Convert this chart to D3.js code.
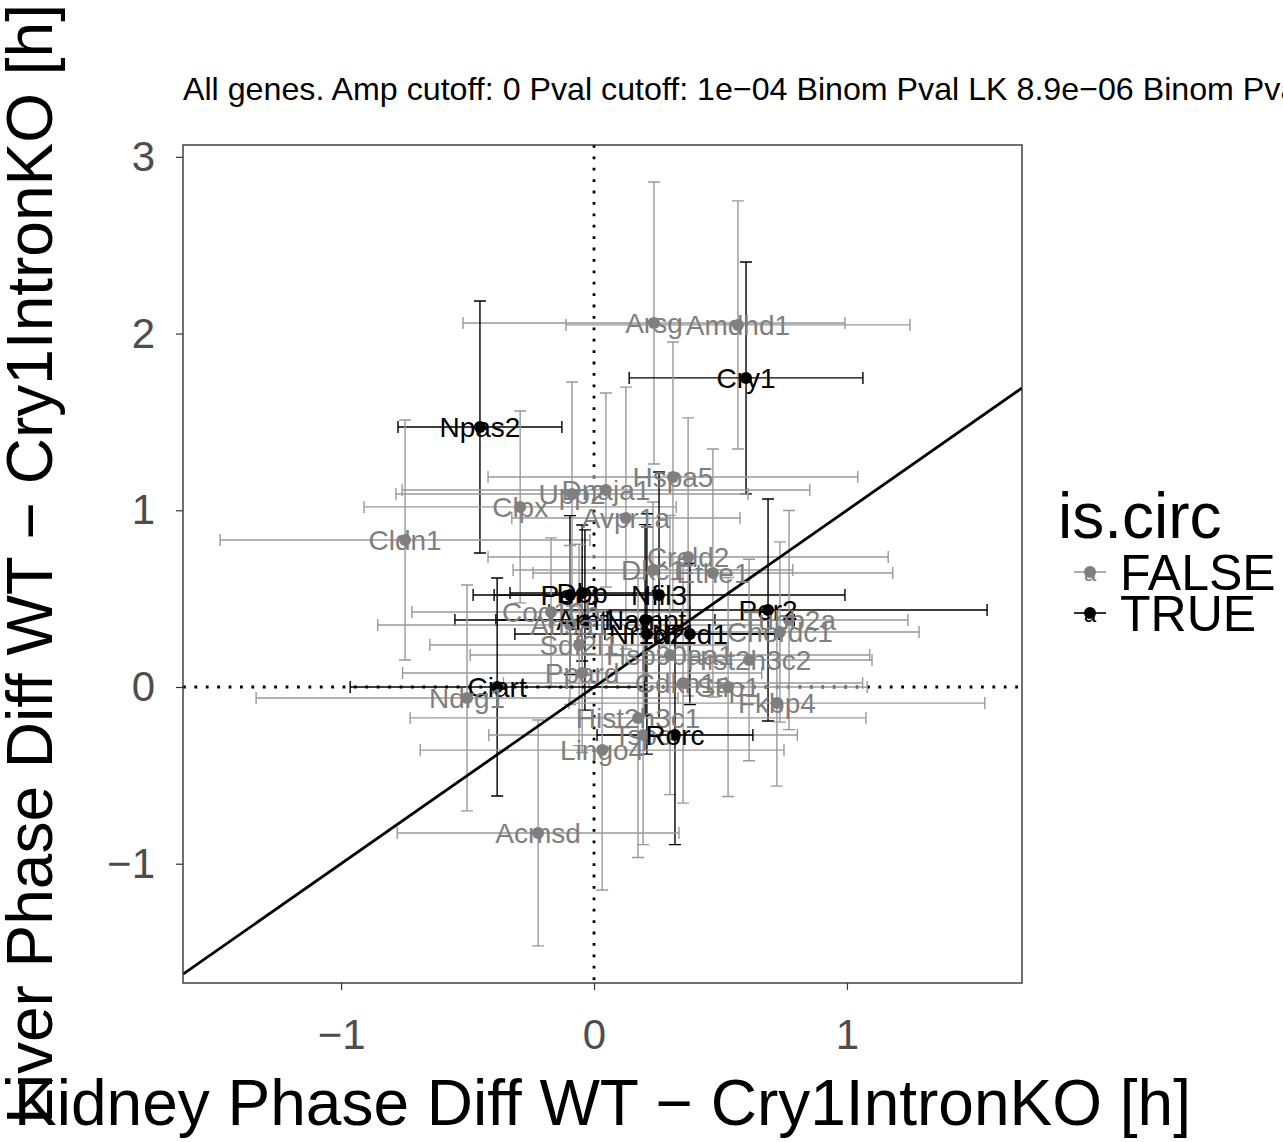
<!DOCTYPE html>
<html>
<head>
<meta charset="utf-8">
<script src="https://cdn.jsdelivr.net/npm/d3@7"></script>
<style>
  body { margin:0; background:#fff; }
  #canvas { width:1283px; height:1142px; overflow:hidden; }
  text { font-family: "Liberation Sans", Arial, Helvetica, sans-serif; }
  .axis path.domain { display:none; }
  .axis line { stroke:#333; stroke-width:1.2; }
  .axis text { font-size:42px; fill:#4d4d4d; }
</style>
</head>
<body>
<div id="canvas" class="canvas"></div>
<script>
//---- ---- DATA ---- ----
var genes = ['Arsg','Amdhd1','Cry1','Npas2','Hspa5','Dnaja1','Upp2','Clpx','Avpr1a','Cldn1',
  'Creld2','Dkc1','Ethe1','Dbp','Per3','Nfil3','Per2','Coq10b','Arntl','Nampt',
  'Ahsa1','Tubb2a','Chordc1','Nr1d2','Nr1d1','Sdf2l1','Hsp90aa1','Hist2h3c2','Ppard','Cdkn1a',
  'Stip1','Ciart','Ndrg1','Fkbp4','Hist2h3c1','Tspo','Rorc','Lingo4','Acmsd'];
var kidneyDiff = [0.237,0.569,0.601,-0.451,0.312,0.047,-0.087,-0.292,0.126,-0.747,
  0.372,0.233,0.470,-0.047,-0.095,0.257,0.688,-0.170,-0.036,0.202,
  -0.095,0.771,0.735,0.209,0.379,-0.059,0.300,0.613,-0.047,0.352,
  0.530,-0.383,-0.502,0.723,0.174,0.194,0.320,0.032,-0.221];
var liverDiff = [2.060,2.049,1.749,1.471,1.188,1.115,1.092,1.019,0.956,0.832,
  0.736,0.662,0.645,0.532,0.520,0.521,0.436,0.424,0.379,0.379,
  0.351,0.379,0.311,0.300,0.300,0.238,0.181,0.153,0.079,0.023,
  0.000,0.000,-0.062,-0.091,-0.175,-0.272,-0.272,-0.357,-0.826];
var kidneyErr = [0.755,0.680,0.462,0.324,0.731,0.806,0.696,0.617,0.451,0.731,
  0.791,0.553,0.711,0.285,0.300,0.735,0.866,0.550,0.514,0.590,
  0.760,0.470,0.550,0.522,0.336,0.590,0.790,0.486,0.710,0.710,
  0.550,0.581,0.834,0.822,0.901,0.610,0.308,0.719,0.557];
var liverErr = [0.798,0.702,0.656,0.713,0.764,0.549,0.634,0.543,0.741,0.679,
  0.787,0.385,0.702,0.385,0.450,0.696,0.628,0.420,0.510,0.540,
  0.450,0.620,0.510,0.680,0.400,0.570,0.790,0.570,0.450,0.680,
  0.620,0.617,0.639,0.470,0.790,0.620,0.620,0.792,0.639];
var isCirc = [false,false,true,true,false,false,false,false,false,false,
  false,false,false,true,true,true,true,false,true,true,
  false,false,false,true,true,false,false,false,false,false,
  false,true,false,false,false,false,true,false,false];
var xTicks = [-1,0,1],
    yTicks = [-1,0,1,2,3];
var xLimits = [-1.625,1.692],
    yLimits = [-1.675,3.067];
var legendLabels = ['FALSE','TRUE'];

var rows = genes.map(function(g,i){
  return {gene:g, x:kidneyDiff[i], y:liverDiff[i], xe:kidneyErr[i], ye:liverErr[i], circ:isCirc[i]};
});

//---- ---- MARGIN CONVENTION ---- ----
var m = {t:145,r:261,b:159,l:183};
var outerWidth = 1283, outerHeight = 1142;
var w = outerWidth - m.l - m.r,
    h = outerHeight - m.t - m.b;

var svg = d3.select('.canvas')
  .append('svg')
  .attr('width',outerWidth)
  .attr('height',outerHeight);

var plot = svg.append('g')
  .attr('transform','translate(' + m.l + ',' + m.t + ')');

//---- ---- SCALES ---- ----
var scaleX = d3.scaleLinear().domain(xLimits).range([0,w]);
var scaleY = d3.scaleLinear().domain(yLimits).range([h,0]);
var colour = function(c){ return c ? '#000' : '#7f7f7f'; };
var barColour = function(c){ return c ? '#000' : '#999'; };
var minus = function(d){ return d < 0 ? '\u2212' + Math.abs(d) : d; };

// clip to panel
svg.append('clipPath').attr('id','clip')
  .append('rect').attr('width',w).attr('height',h);
var inner = plot.append('g').attr('clip-path','url(#clip)');

inner.append('rect').attr('width',w).attr('height',h).attr('fill','#fff');

//---- ---- REFERENCE LINES ---- ----
inner.append('line')
  .attr('x1',scaleX(0)).attr('x2',scaleX(0))
  .attr('y1',0).attr('y2',h)
  .attr('stroke','#000').attr('stroke-width',2.8)
  .attr('stroke-dasharray','2.8 8.6');
inner.append('line')
  .attr('x1',0).attr('x2',w)
  .attr('y1',scaleY(0)).attr('y2',scaleY(0))
  .attr('stroke','#000').attr('stroke-width',2.8)
  .attr('stroke-dasharray','2.8 8.6');

//---- ---- ERROR BARS ---- ----
var cap = 6;
var eb = inner.append('g').selectAll('g')
  .data(rows).enter().append('g')
  .attr('stroke',function(d){ return barColour(d.circ); })
  .attr('stroke-width',1.4)
  .attr('fill','none');

// vertical
eb.append('path').attr('d',function(d){
  var x = scaleX(d.x), y0 = scaleY(d.y - d.ye), y1 = scaleY(d.y + d.ye);
  return 'M'+(x-cap)+','+y1+'H'+(x+cap)+'M'+x+','+y1+'V'+y0+'M'+(x-cap)+','+y0+'H'+(x+cap);
});
// horizontal
eb.append('path').attr('d',function(d){
  var y = scaleY(d.y), x0 = scaleX(d.x - d.xe), x1 = scaleX(d.x + d.xe);
  return 'M'+x0+','+(y-cap)+'V'+(y+cap)+'M'+x0+','+y+'H'+x1+'M'+x1+','+(y-cap)+'V'+(y+cap);
});

//---- ---- DIAGONAL ---- ----
inner.append('line')
  .attr('x1',scaleX(xLimits[0])).attr('y1',scaleY(xLimits[0]))
  .attr('x2',scaleX(xLimits[1])).attr('y2',scaleY(xLimits[1]))
  .attr('stroke','#000').attr('stroke-width',2.8);

//---- ---- POINTS ---- ----
inner.append('g').selectAll('circle')
  .data(rows).enter().append('circle')
  .attr('cx',function(d){ return scaleX(d.x); })
  .attr('cy',function(d){ return scaleY(d.y); })
  .attr('r',6)
  .attr('fill',function(d){ return colour(d.circ); });

//---- ---- LABELS ---- ----
inner.append('g').selectAll('text')
  .data(rows).enter().append('text')
  .attr('x',function(d){ return scaleX(d.x); })
  .attr('y',function(d){ return scaleY(d.y); })
  .attr('dy','0.36em')
  .attr('text-anchor','middle')
  .style('font-size','28px')
  .attr('fill',function(d){ return colour(d.circ); })
  .text(function(d){ return d.gene; });

// panel border
plot.append('rect').attr('width',w).attr('height',h)
  .attr('fill','none').attr('stroke','#333').attr('stroke-width',1.4);

//---- ---- AXES ---- ----
var axisX = d3.axisBottom(scaleX).tickValues(xTicks).tickSize(7).tickPadding(29).tickFormat(minus);
var axisY = d3.axisLeft(scaleY).tickValues(yTicks).tickSize(7).tickPadding(21).tickFormat(minus);

plot.append('g').attr('class','axis axis-x')
  .attr('transform','translate(0,'+h+')')
  .call(axisX);
plot.append('g').attr('class','axis axis-y').call(axisY);

//---- ---- TITLES ---- ----
svg.append('text')
  .attr('x',m.l).attr('y',100)
  .style('font-size','32.2px')
  .text('All genes. Amp cutoff: 0 Pval cutoff: 1e\u221204 Binom Pval LK 8.9e\u221206 Binom Pval KL 0.0019');

svg.append('text')
  .attr('x',m.l + w/2).attr('y',1125)
  .attr('text-anchor','middle')
  .style('font-size','64px')
  .text('Kidney Phase Diff WT \u2212 Cry1IntronKO [h]');

svg.append('text')
  .attr('transform','translate(52,' + (m.t + h/2) + ') rotate(-90)')
  .attr('text-anchor','middle')
  .style('font-size','64px')
  .text('Liver Phase Diff WT \u2212 Cry1IntronKO [h]');

//---- ---- LEGEND ---- ----
var legend = svg.append('g').attr('transform','translate(1058,0)');
legend.append('text').attr('x',0).attr('y',538)
  .style('font-size','64px').text('is.circ');

var key = legend.selectAll('g.key')
  .data(legendLabels).enter().append('g')
  .attr('class','key')
  .attr('transform',function(d,i){ return 'translate(0,' + (572 + i*41) + ')'; });
key.append('line').attr('x1',16).attr('x2',48).attr('y1',0).attr('y2',0)
  .attr('stroke',function(d,i){ return barColour(i===1); }).attr('stroke-width',1.6);
key.append('circle').attr('cx',32).attr('cy',0).attr('r',6)
  .attr('fill',function(d,i){ return colour(i===1); });
key.append('text').attr('x',32).attr('y',9).attr('text-anchor','middle')
  .style('font-size','22px')
  .attr('fill',function(d,i){ return colour(i===1); })
  .text('a');
key.append('text').attr('x',62).attr('y',0).attr('dy','0.36em')
  .style('font-size','50px').text(function(d){ return d; });
</script>
</body>
</html>
